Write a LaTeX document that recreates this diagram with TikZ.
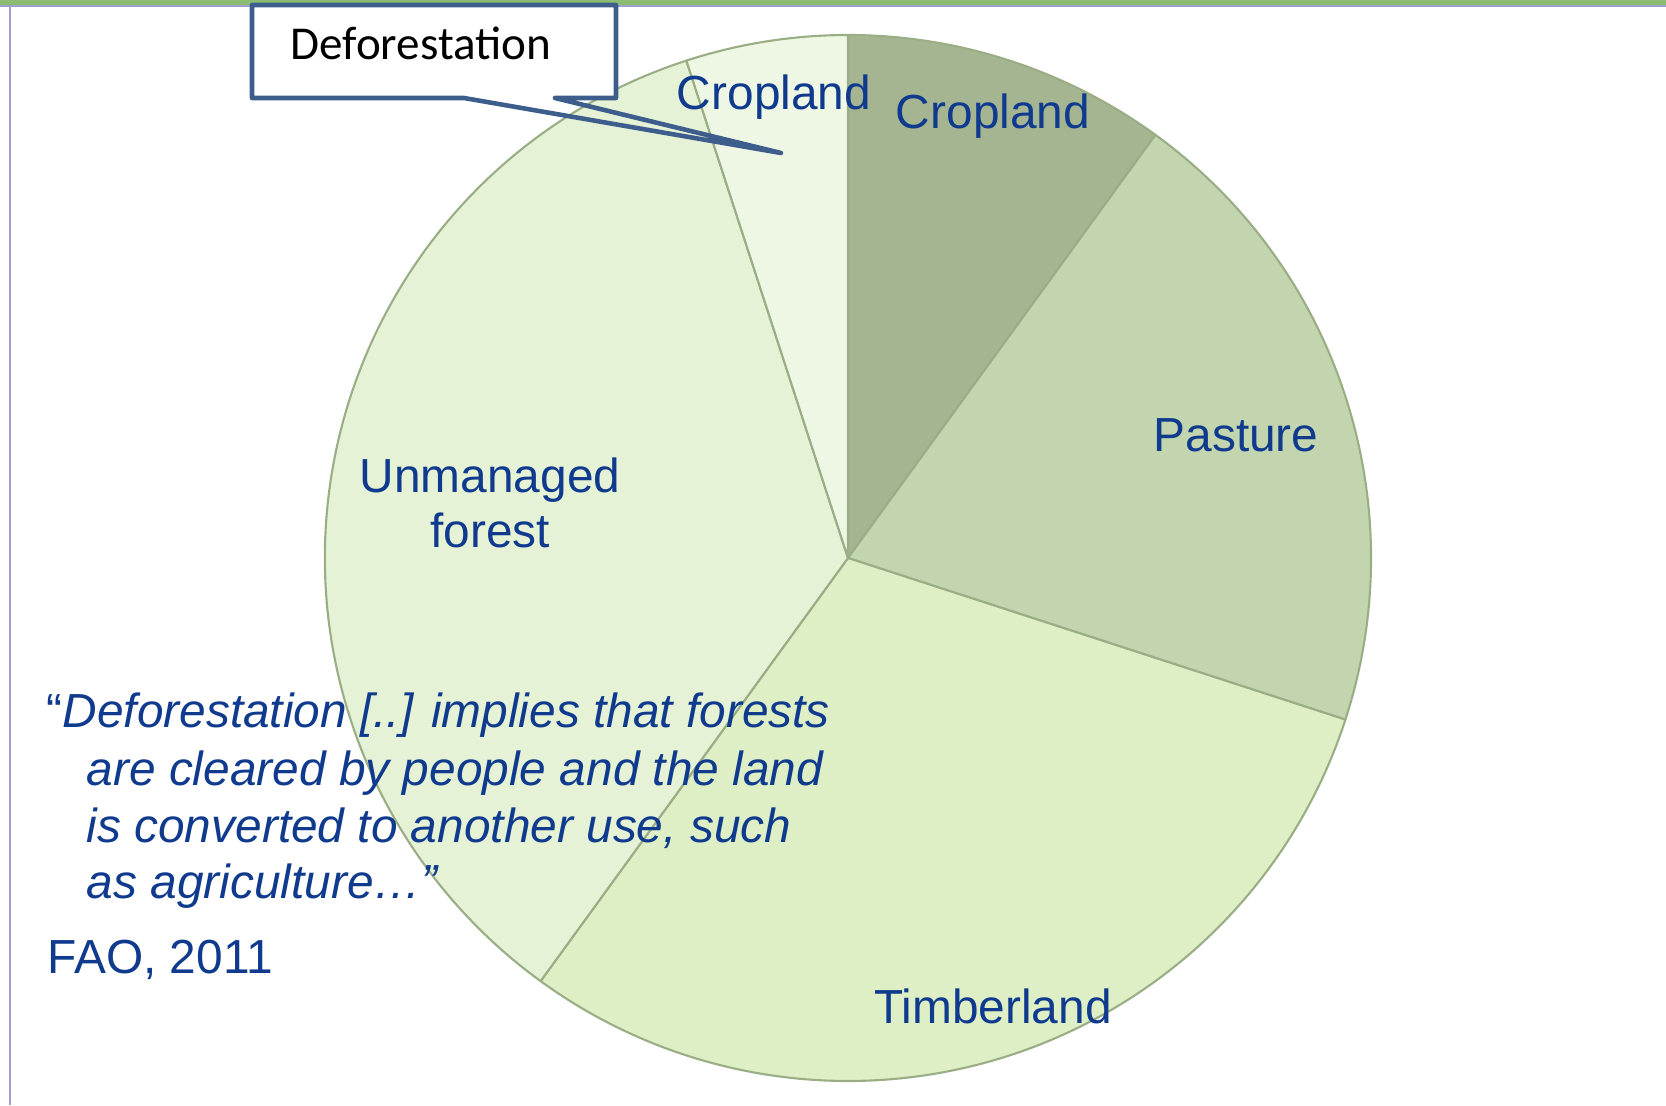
\documentclass[tikz,border=0pt]{standalone}
\usepackage{fontspec}
\setmainfont{Liberation Sans}
\newfontfamily\calibrifont{Carlito}
\usetikzlibrary{positioning}
\definecolor{labelblue}{HTML}{0F3A8D}
\definecolor{calloutblue}{HTML}{3D5E8D}
\definecolor{edgegreen}{HTML}{9AAE86}
\definecolor{cropdark}{HTML}{A5B592}
\definecolor{pasture}{HTML}{C3D5AE}
\definecolor{timber}{HTML}{DEEFC5}
\definecolor{unmanaged}{HTML}{E5F2D5}
\definecolor{croplight}{HTML}{EEF7E4}
\definecolor{bandgreen}{HTML}{8CBC73}
\definecolor{frameline}{HTML}{A0A0CC}

\begin{document}
\begin{tikzpicture}[
  x=0.01cm,y=0.01cm,
  slice/.style={draw=edgegreen,line width=0.6pt,line join=round},
  lbl/.style={anchor=base,inner sep=0pt,text=labelblue,font=\fontsize{13.6}{15.6}\selectfont},
  quotetext/.style={anchor=base west,inner sep=0pt,text=labelblue,font=\fontsize{13.6}{16}\selectfont\itshape},
  callout/.style={draw=calloutblue,line width=1.3pt,line join=round}]
\useasboundingbox (0,0) rectangle (1666,1105);
% slide frame
\fill[bandgreen] (0,1099) rectangle (1666,1105);
\draw[frameline,line width=0.5pt] (0,1099) -- (1666,1099);
\draw[frameline,line width=0.6pt] (10,1099) -- (10,0);
% pie
\coordinate (ctr) at (848,547);
\foreach \a/\b/\c in {54/90/cropdark,-18/54/pasture,-126/-18/timber,108/234/unmanaged,90/108/croplight}
  \filldraw[slice,fill=\c] (ctr) -- ++(\a:523) arc[start angle=\a,end angle=\b,radius=523] -- cycle;
\node[lbl] (crop1) at (774,995) {Cropland};
\node[lbl] (crop2) at (993,976) {Cropland};
\node[lbl] (past) at (1236,654) {Pasture};
\node[lbl] (unman) at (490,613) {Unmanaged};
\node[lbl] (forest) at (490,558) {forest};
\node[lbl] (timb) at (993,82) {Timberland};
% quote
\node[quotetext] (q1) at (46,378) {{\upshape“}Deforestation [..] implies that forests};
\node[quotetext] (q2) at (86,320) {are cleared by people and the land};
\node[quotetext] (q3) at (86,263) {is converted to another use, such};
\node[quotetext] (q4) at (86,207) {as agriculture…”};
\node[lbl,anchor=base west] (fao) at (47,132) {FAO, 2011};
% callout
\coordinate (boxsw) at (252,1007);
\coordinate (boxnw) at (252,1100);
\coordinate (boxne) at (616,1100);
\coordinate (boxse) at (616,1007);
\coordinate (ptl) at (464,1007);
\coordinate (ptr) at (555,1007);
\coordinate (tip) at (781,952);
\fill[white] (boxsw) rectangle (boxne);
\draw[callout] (ptl) -- (boxsw) -- (boxnw) -- (boxne) -- (boxse) -- (ptr) -- (tip) -- cycle;
\node[anchor=base west,inner sep=0pt,font=\calibrifont\fontsize{13.4}{15}\selectfont] (defo) at (290,1045) {Deforestation};
\end{tikzpicture}
\end{document}
